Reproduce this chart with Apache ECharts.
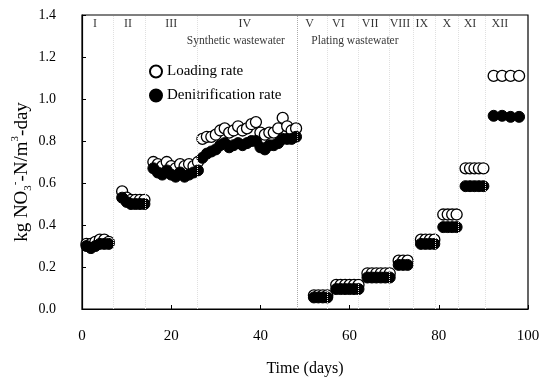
<!DOCTYPE html>
<html><head><meta charset="utf-8">
<script src="https://cdn.jsdelivr.net/npm/echarts@6/dist/echarts.min.js"></script>
<style>html,body{margin:0;padding:0;background:#fff}#c{width:548px;height:382px}</style>
</head><body><div id="c"></div>
<script>
// ---- data ----
const days = [1,2,3,4,5,6, 9,10,11,12,13,14, 16,17,18,19,20,21,22,23,24,25,26,
  27,28,29,30,31,32,33,34,35,36,37,38,39,40,41,42,43,44,45,46,47,48,
  52,53,54,55, 57,58,59,60,61,62, 64,65,66,67,68,69, 71,72,73, 76,77,78,79,
  81,82,83,84, 86,87,88,89,90, 92.3,94.2,96.1,98];
const loadingRate = [0.31,0.31,0.32,0.33,0.33,0.32, 0.56,0.53,0.52,0.52,0.52,0.52,
  0.70,0.69,0.68,0.70,0.68,0.67,0.69,0.68,0.69,0.68,0.70,
  0.81,0.82,0.82,0.83,0.85,0.86,0.84,0.85,0.87,0.85,0.86,0.88,0.89,0.84,0.83,0.84,0.84,0.86,0.91,0.87,0.85,0.86,
  0.065,0.065,0.065,0.065, 0.115,0.115,0.115,0.115,0.115,0.115, 0.17,0.17,0.17,0.17,0.17,0.17,
  0.23,0.23,0.23, 0.33,0.33,0.33,0.33, 0.45,0.45,0.45,0.45, 0.67,0.67,0.67,0.67,0.67,
  1.11,1.11,1.11,1.11];
const denitRate = [0.30,0.29,0.30,0.31,0.31,0.31, 0.53,0.51,0.50,0.50,0.50,0.50,
  0.67,0.65,0.64,0.66,0.64,0.63,0.65,0.63,0.64,0.65,0.66,
  0.72,0.74,0.75,0.76,0.78,0.79,0.77,0.78,0.79,0.78,0.79,0.80,0.80,0.77,0.76,0.78,0.78,0.79,0.81,0.81,0.81,0.82,
  0.055,0.055,0.055,0.055, 0.095,0.095,0.095,0.095,0.095,0.095, 0.15,0.15,0.15,0.15,0.15,0.15,
  0.21,0.21,0.21, 0.31,0.31,0.31,0.31, 0.39,0.39,0.39,0.39, 0.585,0.585,0.585,0.585,0.585,
  0.92,0.92,0.915,0.915];
const phaseNames = ['I','II','III','IV','V','VI','VII','VIII','IX','X','XI','XII'];
const phaseLabelDays = [2.9,10.3,20,36.5,51,57.5,64.6,71.3,76.2,81.8,87,93.7];
const phaseBoundaries = [7,14.1,25.8,48.2,54.9,61.9,68.8,74.2,79.1,84.3,90.4];
const mainBoundary = 48.2;
const xTicks = [0,20,40,60,80,100];
const yTicks = [0,0.2,0.4,0.6,0.8,1.0,1.2,1.4];
const waterNames = ['Synthetic wastewater','Plating wastewater'];
const waterLabelDays = [34.5,61.2];

const F = '"Liberation Serif","Times New Roman",serif';
const chart = echarts.init(document.getElementById('c'));
const pairs = a => days.map((d,i)=>[d,a[i]]);
chart.setOption({
  animation:false,
  grid:{left:82,right:20,top:15,bottom:73,show:true,borderColor:'#000',borderWidth:1.2,backgroundColor:'transparent'},
  xAxis:{type:'value',min:xTicks[0],max:xTicks[xTicks.length-1],interval:20,
    name:'Time (days)',nameLocation:'middle',nameGap:52,
    nameTextStyle:{fontFamily:F,fontSize:16,color:'#000'},
    axisLine:{show:true,lineStyle:{color:'#000',width:1.2}},
    axisTick:{show:true,inside:true,length:4,lineStyle:{color:'#000'}},
    axisLabel:{fontFamily:F,fontSize:15,color:'#000',margin:20},
    splitLine:{show:false}},
  yAxis:{type:'value',min:yTicks[0],max:yTicks[yTicks.length-1],interval:0.2,
    axisLine:{show:true,lineStyle:{color:'#000',width:1.2}},
    axisTick:{show:true,inside:true,length:4,lineStyle:{color:'#000'}},
    axisLabel:{fontFamily:F,fontSize:14,color:'#000',margin:26,formatter:v=>v.toFixed(1)},
    splitLine:{show:false}},
  graphic:[{type:'text',x:22,y:172,rotation:Math.PI/2,
    style:{text:'kg NO{sub|3}{sup|-}-N/m{sup|3}-day',align:'center',verticalAlign:'middle',
      font:'19px '+F,fill:'#000',lineHeight:24,
      rich:{sub:{fontSize:11,fontFamily:F,verticalAlign:'bottom',lineHeight:24},
            sup:{fontSize:11,fontFamily:F,verticalAlign:'top',lineHeight:24}}}}],
  legend:{orient:'vertical',left:144,top:59,itemGap:9,itemWidth:12,itemHeight:12,
    textStyle:{fontFamily:F,fontSize:15,color:'#000'},
    data:['Loading rate','Denitrification rate']},
  series:[
    {name:'Loading rate',type:'scatter',symbol:'circle',symbolSize:11,z:3,
     itemStyle:{color:'#fff',borderColor:'#000',borderWidth:1.3,opacity:1},
     data:pairs(loadingRate),
     markLine:{silent:true,symbol:'none',label:{show:false},animation:false,
       data:phaseBoundaries.map(b=>({xAxis:b,lineStyle:{color:b===mainBoundary?'#aaa':'#e0e0e0',type:'dotted',width:1}}))}},
    {name:'Denitrification rate',type:'scatter',symbol:'circle',symbolSize:11,z:4,
     itemStyle:{color:'#000',borderColor:'#000',borderWidth:1,opacity:1},
     data:pairs(denitRate)},
    {name:'phase',type:'scatter',symbolSize:0,silent:true,z:5,
     data:phaseNames.map((n,i)=>({name:n,value:[phaseLabelDays[i],1.36]})),
     label:{show:true,position:'inside',formatter:p=>p.name,fontFamily:F,fontSize:12,color:'#000'}},
    {name:'water',type:'scatter',symbolSize:0,silent:true,z:5,
     data:waterNames.map((n,i)=>({name:n,value:[waterLabelDays[i],1.275]})),
     label:{show:true,position:'inside',formatter:p=>p.name,fontFamily:F,fontSize:11.5,color:'#000'}}
  ]
});
</script></body></html>
